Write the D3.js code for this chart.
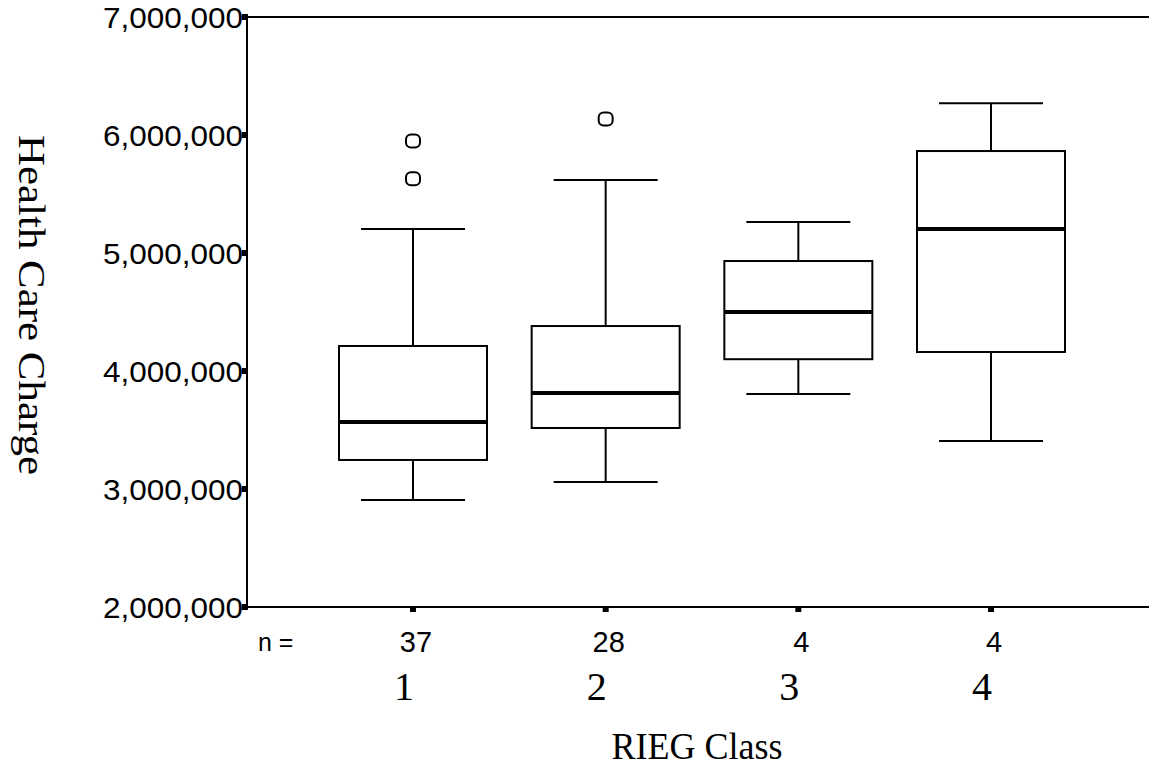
<!DOCTYPE html>
<html><head><meta charset="utf-8">
<script src="https://cdn.jsdelivr.net/npm/d3@7"></script>
<style>body{margin:0;background:#fff}svg{display:block}</style>
</head><body>
<svg id="c" width="1149" height="767"></svg>
<script>
const categories = ["1","2","3","4"];
const counts = ["37","28","4","4"];
const whiskerLow  = [2907000, 3059000, 3805000, 3407000];
const q1          = [3246000, 3517000, 4100000, 4161000];
const medians     = [3568000, 3814000, 4500000, 5203000];
const q3          = [4212000, 4381000, 4932000, 5864000];
const whiskerHigh = [5203000, 5619000, 5263000, 6270000];
const outliers    = [[5950000, 5630000], [6136000], [], []];
const yTicks = [2000000, 3000000, 4000000, 5000000, 6000000, 7000000];

const svg = d3.select("#c");
const y = d3.scaleLinear().domain([2000000, 7000000]).range([607, 17]);
const x = d3.scalePoint().domain(categories).range([413, 991]);
const boxW = 148, capW = 104;
const fmt = d3.format(",");

// frame lines
svg.append("line").attr("x1",247).attr("x2",1149).attr("y1",y(7000000)).attr("y2",y(7000000)).attr("stroke","#000").attr("stroke-width",2);
svg.append("line").attr("x1",247).attr("x2",1149).attr("y1",y(2000000)).attr("y2",y(2000000)).attr("stroke","#000").attr("stroke-width",2);
svg.append("line").attr("x1",247).attr("x2",247).attr("y1",y(7000000)).attr("y2",y(2000000)).attr("stroke","#000").attr("stroke-width",2);

// y ticks
const yt = svg.append("g");
yTicks.forEach(t=>{
  yt.append("rect").attr("x",242).attr("y",y(t)-3).attr("width",6).attr("height",6).attr("fill","#000");
  yt.append("text").attr("x",243).attr("y",y(t)+10.5).attr("text-anchor","end")
    .attr("font-family","Liberation Sans, Arial, sans-serif").attr("font-size",30)
    .attr("textLength",140).attr("lengthAdjust","spacingAndGlyphs").text(fmt(t));
});

// x ticks and labels
categories.forEach((c,i)=>{
  const cx = x(c);
  svg.append("rect").attr("x",cx-3).attr("y",606).attr("width",6).attr("height",6).attr("fill","#000");
  svg.append("text").attr("x",cx+3).attr("y",652).attr("text-anchor","middle")
    .attr("font-family","Liberation Sans, Arial, sans-serif").attr("font-size",29).text(counts[i]);
  svg.append("text").attr("x",cx-9).attr("y",700).attr("text-anchor","middle")
    .attr("font-family","Liberation Serif, Times New Roman, serif").attr("font-size",40).text(c);
});
svg.append("text").attr("x",258).attr("y",651)
  .attr("font-family","Liberation Sans, Arial, sans-serif").attr("font-size",25).text("n =");

// boxes
const g = svg.append("g").attr("stroke","#000").attr("fill","none");
categories.forEach((c,i)=>{
  const cx = x(c);
  g.append("line").attr("x1",cx).attr("x2",cx).attr("y1",y(whiskerHigh[i])).attr("y2",y(q3[i])).attr("stroke-width",2);
  g.append("line").attr("x1",cx).attr("x2",cx).attr("y1",y(q1[i])).attr("y2",y(whiskerLow[i])).attr("stroke-width",2);
  g.append("line").attr("x1",cx-capW/2).attr("x2",cx+capW/2).attr("y1",y(whiskerHigh[i])).attr("y2",y(whiskerHigh[i])).attr("stroke-width",2);
  g.append("line").attr("x1",cx-capW/2).attr("x2",cx+capW/2).attr("y1",y(whiskerLow[i])).attr("y2",y(whiskerLow[i])).attr("stroke-width",2);
  g.append("rect").attr("x",cx-boxW/2).attr("y",y(q3[i])).attr("width",boxW).attr("height",y(q1[i])-y(q3[i])).attr("stroke-width",2).attr("fill","#fff");
  g.append("line").attr("x1",cx-boxW/2).attr("x2",cx+boxW/2).attr("y1",y(medians[i])).attr("y2",y(medians[i])).attr("stroke-width",4);
  outliers[i].forEach(v=>{
    g.append("rect").attr("x",cx-7).attr("y",y(v)-6.5).attr("width",14).attr("height",13).attr("rx",5).attr("ry",5).attr("stroke-width",2);
  });
});

// axis titles
svg.append("text").attr("transform","translate(19,305) rotate(90)").attr("text-anchor","middle")
  .attr("font-family","Liberation Serif, Times New Roman, serif").attr("font-size",38)
  .attr("textLength",340).attr("lengthAdjust","spacingAndGlyphs").text("Health Care Charge");
svg.append("text").attr("x",697).attr("y",759).attr("text-anchor","middle")
  .attr("font-family","Liberation Serif, Times New Roman, serif").attr("font-size",38)
  .attr("textLength",171).attr("lengthAdjust","spacingAndGlyphs").text("RIEG Class");
</script>
</body></html>
